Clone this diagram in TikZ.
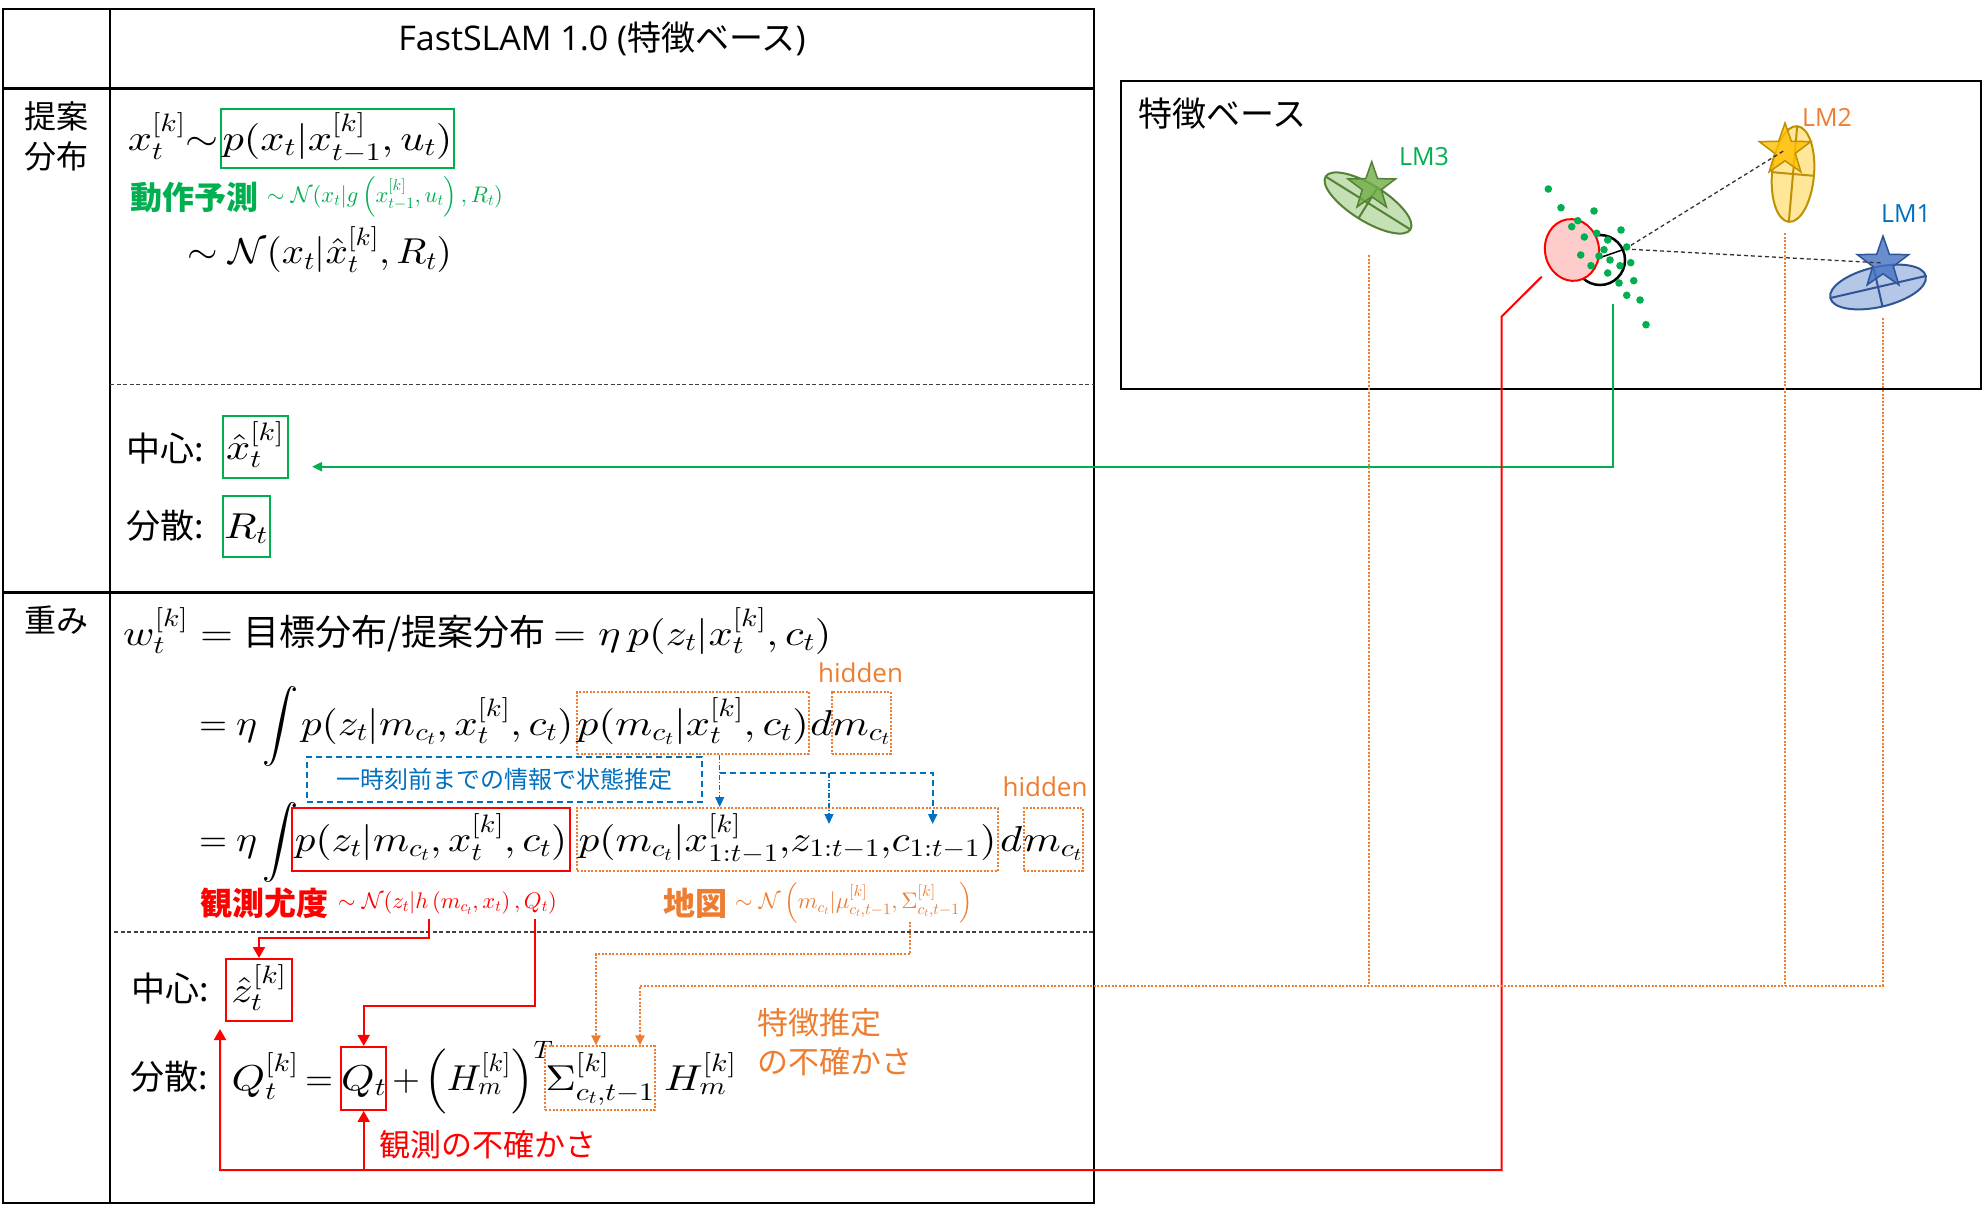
\documentclass[tikz,border=0pt]{standalone}
\usepackage[no-math]{fontspec}
\usepackage{graphicx}
\DeclareFontShape{OML}{cmm}{m}{it}{<->cmmi10}{}
\DeclareFontShape{OMS}{cmsy}{m}{n}{<->cmsy10}{}
\DeclareFontShape{OMX}{cmex}{m}{n}{<->cmex10}{}
\DeclareFontShape{OT1}{cmr}{m}{n}{<->cmr10}{}
\setmainfont{Open Sans}
\newfontfamily\jp{Noto Sans CJK JP}
\usetikzlibrary{arrows.meta,shapes.geometric}
\newcommand\fsz[1]{\fontsize{#1}{#1}\selectfont}
\newcommand\mth[2][1.18]{\scalebox{#1}[1]{$#2$}}
\newcommand\cm{\mathord{,}}
\definecolor{cgreen}{HTML}{00B050}
\definecolor{corange}{HTML}{ED7D31}
\definecolor{cblue}{HTML}{0070C0}
\definecolor{lmgfill}{HTML}{C5E0B4}
\definecolor{lmgdraw}{HTML}{548235}
\definecolor{lmgstar}{HTML}{70AD47}
\definecolor{lmyfill}{HTML}{FFE699}
\definecolor{lmydraw}{HTML}{BF9000}
\definecolor{lmystar}{HTML}{FFC000}
\definecolor{lmbfill}{HTML}{B4C7E7}
\definecolor{lmbdraw}{HTML}{2F5597}
\definecolor{lmbstar}{HTML}{4472C4}
\definecolor{robfill}{HTML}{FFCCCC}
\begin{document}
\begin{tikzpicture}[x=1pt,y=-1pt,
  mtext/.style={font=\fsz{36}, inner sep=0pt},
  mbox/.style={font=\fsz{36}, inner sep=0pt, text height=34pt, text depth=10pt, line width=2pt},
  gbox/.style={mbox, draw=cgreen},
  rbox/.style={mbox, draw=red},
  obox/.style={mbox, draw=corange, dash pattern=on 2pt off 1.6pt},
  jpl/.style={font=\jp\fsz{32}, inner sep=0pt},
  jpw/.style={font=\jp\fsz{34}, inner sep=0pt, anchor=west},
  jpb/.style={font=\jp\bfseries\fsz{32}, inner sep=0pt, anchor=west},
  small/.style={inner sep=0pt, anchor=west, font=\fsz{22.5}},
  hid/.style={font=\fsz{26}, text=corange, inner sep=0pt},
  lmlab/.style={font=\fsz{25}, inner sep=0pt},
  sep/.style={line width=1.5pt, dash pattern=on 4pt off 2.5pt, black!75},
  rline/.style={red, line width=2pt},
  oline/.style={corange, line width=2pt, dash pattern=on 2pt off 1.6pt},
  bline/.style={cblue, line width=2pt, dash pattern=on 6pt off 4pt},
  bthin/.style={cblue, line width=1.3pt, dash pattern=on 5pt off 2pt on 1pt off 2pt},
  tipR/.style={-{Triangle[length=11pt,width=12pt]}},
  tipS/.style={-{Triangle[length=10pt,width=9pt]}},
  lmstar/.style={star, star points=5, star point ratio=2.5, inner sep=0pt, line width=1.5pt, fill opacity=0.8}
]
\useasboundingbox (0,0) rectangle (1983,1206);
\fill[white] (0,0) rectangle (1983,1206);

% ---------------- table ----------------
\draw[line width=2pt] (2.5,9) rectangle (1094,1203);
\draw[line width=2pt] (110,9) -- (110,1203);
\draw[line width=3pt] (2.5,88.5) -- (1094,88.5);
\draw[line width=3pt] (2.5,592) -- (1094,592);
\draw[sep] (110,384.5) -- (1094,384.5);
\draw[sep] (114,932) -- (1094,932);

\node[font=\fsz{34}, inner sep=0pt] (title) at (602,39) {FastSLAM 1.0 ({\jp 特徴ベース})};
\node[jpl] (lab1) at (56,116) {提案};
\node[jpl] (lab2) at (56,156) {分布};
\node[jpl] (lab3) at (56,620) {重み};

% ---------------- row 1 ----------------
\node[gbox, minimum width=233pt, minimum height=59pt] (pA) at (337.5,138.5) {\mth{p(x_t|x_{t-1}^{[k]},u_t)}};
\node[mtext, anchor=base east] (xA) at (219,150.5) {\mth{x_t^{[k]}{\sim}}};
\node[jpb, text=cgreen] (motion) at (130,197) {動作予測};
\node[small, text=cgreen] (motionf) at (267,197) {\mth[1]{\sim\mathcal{N}(x_t|g\left(x_{t-1}^{[k]},u_t\right),R_t)}};
\node[mtext, anchor=base west] (xhat) at (187,264) {\mth[1.09]{\sim\mathcal{N}(x_t|\hat{x}_t^{[k]},R_t)}};

\node[jpw] (cen1) at (126,449) {中心:};
\node[gbox, minimum width=65pt, minimum height=62pt] (cbox1) at (255,447) {\mth{\hat{x}_t^{[k]}}};
\node[jpw] (var1) at (126,526) {分散:};
\node[gbox, minimum width=47pt, minimum height=61pt] (vbox1) at (246,526) {\mth{R_t}};

% ---------------- row 2 ----------------
\node[mtext, anchor=base west] (wl) at (123,645) {\mth{w_t^{[k]}=}\hspace{10pt}{\jp 目標分布/提案分布}\hspace{8pt}\mth{=\eta\,p(z_t|x_t^{[k]},c_t)}};

\node[mtext, anchor=base west] (E0) at (199,735) {\mth[1]{=}};
\node[mtext, anchor=base west] (Ee) at (236,735) {\mth[1.1]{\eta}};
\node[mtext, anchor=base west] (Ei) at (262,735) {\mth[1]{\displaystyle\int}};
\node[mtext, anchor=base west] (E1) at (301,735) {\mth[1.14]{p(z_t|m_{c_t},x_t^{[k]},c_t)}};
\node[obox, minimum width=232pt, minimum height=62pt] (E2) at (693,723) {\mth{p(m_{c_t}|x_t^{[k]},c_t)}};
\node[mtext, anchor=base west] (Ed) at (810,735) {\mth{d}};
\node[obox, minimum width=56pt, minimum height=62pt] (E3) at (861,723) {\mth{m_{c_t}}};
\node[hid] (hid1) at (860.5,673) {hidden};

\node[draw=cblue, line width=2pt, dash pattern=on 6pt off 4pt, minimum width=395pt, minimum height=45pt, inner sep=0pt, font=\jp\fsz{24}, text=cblue] (blue) at (504.3,779.2) {一時刻前までの情報で状態推定};

\node[mtext, anchor=base west] (F0) at (199,851.5) {\mth[1]{=}};
\node[mtext, anchor=base west] (Fe) at (236,851.5) {\mth[1.1]{\eta}};
\node[mtext, anchor=base west] (Fi) at (262,851.5) {\mth[1]{\displaystyle\int}};
\node[rbox, minimum width=278pt, minimum height=63pt] (F2) at (431,839.5) {\mth[1.14]{p(z_t|m_{c_t},x_t^{[k]},c_t)}};
\node[obox, minimum width=421pt, minimum height=63pt] (F3) at (787.5,839.5) {\mth[1.15]{p(m_{c_t}|x_{1:t-1}^{[k]}\cm z_{1:t-1}\cm c_{1:t-1})}};
\node[mtext, anchor=base west] (Fd) at (1000,851.5) {\mth{d}};
\node[obox, minimum width=54pt, minimum height=63pt] (F5) at (1053,839.5) {\mth{m_{c_t}}};
\node[hid] (hid2) at (1045,787) {hidden};

\node[jpb, text=red] (lik) at (200,903) {観測尤度};
\node[small, text=red] (likf) at (338,903) {\mth[1]{\sim\mathcal{N}(z_t|h\left(m_{c_t},x_t\right),Q_t)}};
\node[jpb, text=corange] (map) at (663,903) {地図};
\node[small, text=corange] (mapf) at (735,903) {\mth[1]{\sim\mathcal{N}\left(m_{c_t}|\mu_{c_t,t-1}^{[k]},\Sigma_{c_t,t-1}^{[k]}\right)}};

\node[jpw] (cen2) at (131,989) {中心:};
\node[rbox, minimum width=66pt, minimum height=62pt] (zbox) at (259,990) {\mth{\hat{z}_t^{[k]}}};
\node[jpw] (var2) at (130,1077) {分散:};
\node[mtext, anchor=base west] (Ql) at (231.5,1090.4) {\mth{Q_t^{[k]}}};
\node[mtext, anchor=base west] (Qeq) at (305,1090.4) {\mth[1]{=}};
\node[rbox, minimum width=42pt, minimum height=63pt] (qbox) at (363.7,1078.4) {\mth{Q_t}};
\node[mtext, anchor=base west] (plus) at (392,1090.4) {\mth[1]{+}};
\node[mtext, anchor=base west] (Hl) at (424,1090.4) {\mth[1.05]{\left(H_m^{[k]}\right)^T}};
\node[obox, minimum width=109pt, minimum height=64pt] (sbox) at (600,1078.4) {\mth{\Sigma_{c_t,t-1}^{[k]}}};
\node[mtext, anchor=base west] (H2) at (664,1090.4) {\mth{H_m^{[k]}}};
\node[jpw, font=\jp\fsz{31}, text=corange] (fu1) at (757,1023) {特徴推定};
\node[jpw, font=\jp\fsz{31}, text=corange] (fu2) at (757,1062) {の不確かさ};
\node[jpw, font=\jp\fsz{31}, text=red] (ou) at (379,1145) {観測の不確かさ};

% ---------------- right box ----------------
\draw[line width=2pt] (1121,81) rectangle (1981,389);
\node[jpw] (fb) at (1138,114) {特徴ベース};

% landmark ellipses
\begin{scope}[shift={(1368,203)}, rotate=-32]
  \draw[lmgdraw, fill=lmgfill, line width=2pt] (0,0) ellipse [x radius=50pt, y radius=18pt];
  \draw[lmgdraw, line width=2pt] (-50pt,0) -- (50pt,0) (0,-18pt) -- (0,18pt);
\end{scope}
\begin{scope}[shift={(1793,174)}, rotate=-5]
  \draw[lmydraw, fill=lmyfill, line width=2pt] (0,0) ellipse [x radius=21pt, y radius=48pt];
  \draw[lmydraw, line width=2pt] (-21pt,0) -- (21pt,0) (0,-48pt) -- (0,48pt);
\end{scope}
\begin{scope}[shift={(1878,287)}, rotate=13]
  \draw[lmbdraw, fill=lmbfill, line width=2pt] (0,0) ellipse [x radius=49pt, y radius=20pt];
  \draw[lmbdraw, line width=2pt] (-49pt,0) -- (49pt,0) (0,-20pt) -- (0,20pt);
\end{scope}

% robot
\coordinate (rob) at (1625,249);
\draw[black, line width=2.5pt] (1600,260) circle (25pt);
\draw[red, fill=robfill, line width=2pt, rotate around={10:(1572,250)}] (1572,250) ellipse [x radius=27pt, y radius=31pt];
\draw[line width=1.5pt] (1599,258) -- (rob);

% stars
\node[lmstar, minimum size=50pt, fill=lmgstar, draw=lmgdraw] (s3) at (1371.7,186.7) {};
\node[lmstar, minimum size=54pt, fill=lmystar, draw=lmydraw] (s2) at (1785,150) {};
\node[lmstar, minimum size=54pt, fill=lmbstar, draw=lmbdraw] (s1) at (1883,263) {};
\draw[black!80, line width=1.3pt, dash pattern=on 4pt off 3pt] (rob) -- (s2.center);
\draw[black!80, line width=1.3pt, dash pattern=on 4pt off 3pt] (rob) -- (s1.center);

\node[lmlab, text=cgreen] (lm3) at (1424,157) {LM3};
\node[lmlab, text=corange] (lm2) at (1827,117) {LM2};
\node[lmlab, text=cblue] (lm1) at (1906,214) {LM1};

% particles
\foreach \p in {(1548.3,189),(1561,207.7),(1594,211),(1577.7,220.7),(1571.7,226.7),(1621,230),(1596.7,233.3),(1584.3,237),(1607.7,240),(1626.7,247),(1604,249.7),(1580.7,255),(1599,256),(1610,260),(1630.7,262.7),(1620,265.7),(1591,265.7),(1607.7,273),(1633.7,280.7),(1619,283),(1626.7,295.3),(1640,300),(1646,324.7)}
  \fill[cgreen] \p circle (3.8pt);

% ---------------- connectors ----------------
% green
\coordinate (gstart) at (1612.5,303.5);
\coordinate (gend) at (312,466.7);
\draw[cgreen, line width=2pt, tipS] (gstart) |- (gend);

% blue
\coordinate (bj) at (719.7,772.7);
\coordinate (bz) at (829,824);
\coordinate (bc) at (932.7,824);
\draw[bthin, tipS] ([xshift=26.7pt]E2.south) -- ([xshift=-67.8pt]F3.north);
\draw[bline, tipS] (bj) -| (bc);
\draw[bthin, tipS] (bz |- bj) -- (bz);

% red
\coordinate (lk1) at (429,919);
\coordinate (lk2) at (535,919);
\coordinate (robr) at (1541.7,276.7);
\coordinate (rbend) at (1501.5,316.7);
\coordinate (rlow) at (1501.5,1170);
\draw[rline, tipR] (lk1) -- ++(0,18.7) -| (zbox.north);
\draw[rline, tipR] (lk2) -- ++(0,86.7) -| (qbox.north);
\draw[rline, tipR] (robr) -- (rbend) -- (rlow) -| ([xshift=-5pt,yshift=-7pt]zbox.south west);
\draw[rline, tipR] (qbox.south |- rlow) -- (qbox.south);

% orange
\coordinate (mp) at (909.6,921.7);
\coordinate (l3) at (1369,255);
\coordinate (l2) at (1785,233);
\coordinate (l1) at (1882.5,318);
\coordinate (ojoin) at (1882.5,985.7);
\draw[oline, tipS] (mp) -- ++(0,32.3) -| ([xshift=-4pt]sbox.north);
\draw[oline] (l3) -- (l3 |- ojoin);
\draw[oline] (l2) -- (l2 |- ojoin);
\draw[oline, tipS] (l1) -- (ojoin) -| ([xshift=40pt]sbox.north);
\end{tikzpicture}
\end{document}
